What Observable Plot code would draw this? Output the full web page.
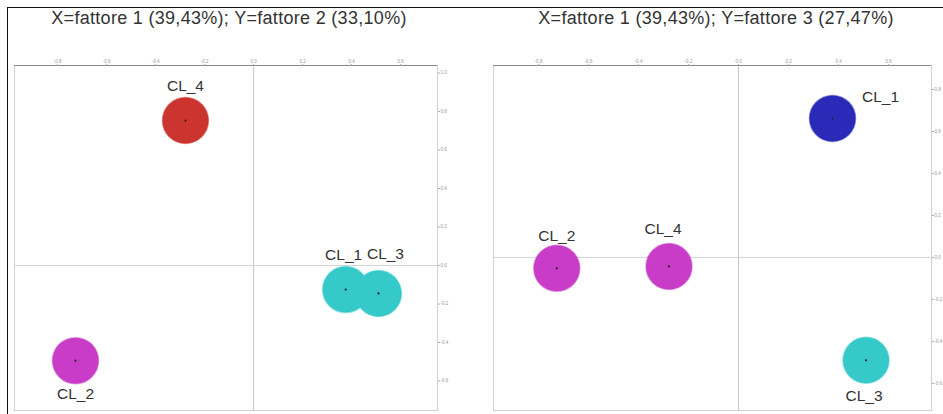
<!DOCTYPE html>
<html><head><meta charset="utf-8">
<script src="https://cdn.jsdelivr.net/npm/d3@7"></script>
<script src="https://cdn.jsdelivr.net/npm/@observablehq/plot@0.6"></script>
<style>
body{margin:0;background:#fff;font-family:"Liberation Sans",Arial,sans-serif;}
#wrap{position:relative;width:943px;height:414px;overflow:hidden;background:#fff;}
.title{position:absolute;top:8px;font-size:18px;letter-spacing:0.3px;color:#333;white-space:nowrap;transform:translateX(-50%);}
.panel{position:absolute;top:0;}
#bt{position:absolute;left:7px;top:7px;width:936px;height:1px;background:#111;}
#bl{position:absolute;left:7px;top:7px;width:1px;height:407px;background:#111;}
</style></head>
<body><div id="wrap"><div id="bt"></div><div id="bl"></div></div>
<script>
// ---- data ----
const clusters = ["CL_1", "CL_2", "CL_3", "CL_4"];
const fattore1 = [0.376, -0.727, 0.51, -0.278];
const fattore2 = [-0.125, -0.494, -0.145, 0.753];
const fattore3 = [0.662, -0.052, -0.49, -0.043];
const titles = ["X=fattore 1 (39,43%); Y=fattore 2 (33,10%)", "X=fattore 1 (39,43%); Y=fattore 3 (27,47%)"];
const xTicks = [-0.8, -0.6, -0.4, -0.2, 0, 0.2, 0.4, 0.6];
const yTicksLeft = [-0.6, -0.4, -0.2, 0, 0.2, 0.4, 0.6, 0.8, 1.0];
const yTicksRight = [-0.6, -0.4, -0.2, 0, 0.2, 0.4, 0.6, 0.8];

// ---- styles ----
const colorsLeft = {CL_1: "#36c9c9", CL_2: "#c83cc8", CL_3: "#36c9c9", CL_4: "#cc3430"};
const colorsRight = {CL_1: "#2a2ab8", CL_2: "#c83cc8", CL_3: "#36c9c9", CL_4: "#c83cc8"};
const offsLeft = {CL_1: [-2, -35], CL_2: [0, 33], CL_3: [7, -39], CL_4: [0, -35]};
const offsRight = {CL_1: [48, -21], CL_2: [0, -32], CL_3: [-2, 36], CL_4: [-6, -37]};

const rows2 = clusters.map((c, i) => ({c, x: fattore1[i], y: fattore2[i]}));
const rows3 = clusters.map((c, i) => ({c, x: fattore1[i], y: fattore3[i]}));
const fmt = v => v.toFixed(1);

function panel({rows, colors, offs, width, ml, mr, xDomain, yDomain, yTicks}) {
  const axisStyle = {fontSize: 4.5, fill: "#999", stroke: "#aaa", tickSize: 2, tickPadding: 1, tickFormat: fmt};
  return Plot.plot({
    width, height: 414,
    marginLeft: ml, marginRight: mr, marginTop: 65, marginBottom: 4,
    style: {overflow: "visible", background: "transparent", fontFamily: "Liberation Sans, Arial"},
    x: {domain: xDomain},
    y: {domain: yDomain},
    marks: [
      Plot.frame({stroke: "#d0d0d0"}),
      Plot.ruleY([yDomain[1]], {stroke: "#8a8a8a", strokeWidth: 1.2}),
      Plot.ruleX([0], {stroke: "#c8c8c8"}),
      Plot.ruleY([0], {stroke: "#d4d4d4"}),
      Plot.axisX({anchor: "top", ticks: xTicks, label: null, ...axisStyle}),
      Plot.axisY({anchor: "right", ticks: yTicks, label: null, ...axisStyle}),
      Plot.dot(rows, {x: "x", y: "y", r: 23, fill: d => colors[d.c], stroke: d => colors[d.c], strokeOpacity: 0.5, strokeWidth: 1.5}),
      Plot.dot(rows, {x: "x", y: "y", r: 1.1, fill: "#222"}),
      ...rows.map(d => Plot.text([d], {x: "x", y: "y", text: "c", dx: offs[d.c][0], dy: offs[d.c][1], fontSize: 15.5, fill: "#333"}))
    ]
  });
}

const wrap = document.getElementById("wrap");
const left = panel({rows: rows2, colors: colorsLeft, offs: offsLeft, width: 470, ml: 14, mr: 33,
  xDomain: [-0.976, 0.751], yDomain: [-0.753, 1.039], yTicks: yTicksLeft});
const right = panel({rows: rows3, colors: colorsRight, offs: offsRight, width: 473, ml: 23, mr: 12,
  xDomain: [-0.98, 0.772], yDomain: [-0.729, 0.914], yTicks: yTicksRight});
const pl = document.createElement("div"); pl.className = "panel"; pl.style.left = "0px"; pl.appendChild(left);
const pr = document.createElement("div"); pr.className = "panel"; pr.style.left = "470px"; pr.appendChild(right);
wrap.appendChild(pl); wrap.appendChild(pr);
[[titles[0], 229], [titles[1], 716]].forEach(([t, x]) => {
  const d = document.createElement("div"); d.className = "title"; d.style.left = x + "px"; d.textContent = t; wrap.appendChild(d);
});
</script></body></html>
